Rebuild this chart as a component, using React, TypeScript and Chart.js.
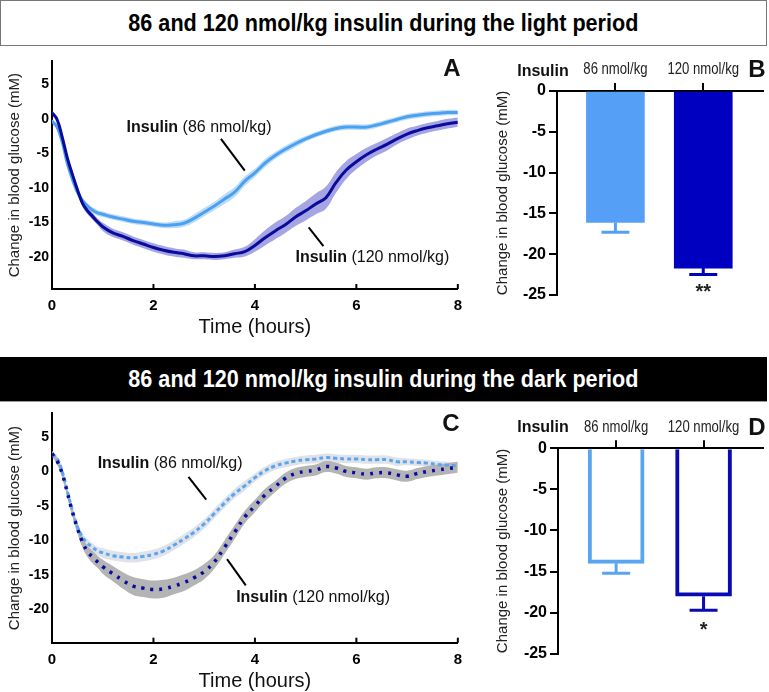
import React, { useEffect, useRef } from 'react';
import { Chart, registerables } from 'chart.js';
Chart.register(...registerables);

const FONT = "'Liberation Sans', Arial, sans-serif";

// ---------- data ----------
const hours = [0, 0.1, 0.2, 0.3, 0.4, 0.5, 0.6, 0.7, 0.8, 0.9, 1.0, 1.2, 1.4, 1.6, 1.8, 2.0, 2.2, 2.4, 2.6, 2.8, 3.0, 3.2, 3.4, 3.6, 3.8, 4.0, 4.2, 4.4, 4.6, 4.8, 5.0, 5.2, 5.4, 5.6, 5.8, 6.0, 6.2, 6.4, 6.6, 6.8, 7.0, 7.2, 7.4, 7.6, 7.8, 8.0];

// Light period (panel A)
const lightDose86Mean = [-0.3, -1.2, -3.3, -6.4, -8.7, -10.6, -11.8, -12.6, -13.2, -13.6, -13.8, -14.2, -14.5, -14.8, -15.0, -15.2, -15.4, -15.3, -15.1, -14.4, -13.5, -12.6, -11.6, -10.6, -9.0, -7.8, -6.4, -5.3, -4.4, -3.6, -2.9, -2.3, -1.8, -1.4, -1.2, -1.2, -1.2, -0.9, -0.5, -0.1, 0.3, 0.5, 0.7, 0.8, 0.9, 0.9];
const lightDose86Sem = [0.2, 0.3, 0.4, 0.4, 0.4, 0.4, 0.4, 0.4, 0.4, 0.4, 0.4, 0.4, 0.4, 0.4, 0.4, 0.4, 0.4, 0.5, 0.5, 0.6, 0.6, 0.6, 0.7, 0.7, 0.7, 0.6, 0.6, 0.5, 0.5, 0.5, 0.4, 0.4, 0.4, 0.4, 0.4, 0.4, 0.4, 0.4, 0.4, 0.4, 0.4, 0.4, 0.4, 0.4, 0.4, 0.4];
const lightDose120Mean = [0.9, -0.1, -2.6, -5.6, -8.0, -10.2, -12.2, -13.3, -14.1, -14.9, -15.6, -16.5, -17.0, -17.6, -18.1, -18.6, -19.0, -19.3, -19.5, -19.8, -19.8, -19.9, -19.8, -19.5, -19.2, -18.3, -17.2, -16.2, -15.3, -14.2, -13.3, -12.3, -11.4, -9.2, -7.4, -6.2, -5.2, -4.4, -3.7, -2.9, -2.2, -1.7, -1.3, -1.0, -0.7, -0.5];
const lightDose120Sem = [0.2, 0.3, 0.4, 0.4, 0.4, 0.4, 0.5, 0.5, 0.5, 0.5, 0.6, 0.6, 0.6, 0.6, 0.6, 0.6, 0.6, 0.6, 0.6, 0.5, 0.5, 0.5, 0.5, 0.6, 0.7, 0.9, 1.1, 1.2, 1.2, 1.3, 1.4, 1.5, 1.6, 1.5, 1.3, 1.1, 1.0, 0.9, 0.9, 0.8, 0.8, 0.7, 0.7, 0.7, 0.7, 0.7];

// Dark period (panel C)
const darkDose86Mean = [2.5, 1.9, 0.0, -2.8, -5.6, -8.0, -9.5, -10.4, -11.0, -11.5, -11.8, -12.2, -12.4, -12.5, -12.3, -12.0, -11.5, -10.7, -9.8, -8.8, -7.6, -6.1, -4.6, -3.2, -2.1, -0.9, 0.1, 0.8, 1.2, 1.5, 1.7, 1.8, 2.0, 1.9, 1.8, 1.8, 1.7, 1.7, 1.7, 1.4, 1.4, 1.3, 1.2, 1.0, 0.9, 0.8];
const darkDose86Sem = [0.3, 0.4, 0.5, 0.5, 0.5, 0.6, 0.6, 0.6, 0.6, 0.6, 0.7, 0.7, 0.7, 0.7, 0.7, 0.7, 0.7, 0.7, 0.7, 0.7, 0.7, 0.7, 0.7, 0.7, 0.7, 0.6, 0.6, 0.6, 0.6, 0.6, 0.6, 0.6, 0.6, 0.6, 0.6, 0.6, 0.6, 0.6, 0.6, 0.6, 0.5, 0.5, 0.5, 0.5, 0.5, 0.5];
const darkDose120Mean = [2.6, 1.5, -0.3, -3.0, -5.8, -8.2, -10.2, -11.6, -12.4, -13.1, -13.8, -14.8, -15.8, -16.6, -16.9, -17.1, -17.0, -16.6, -16.1, -15.4, -14.5, -13.1, -11.0, -8.8, -6.6, -5.0, -3.4, -2.2, -1.0, -0.3, 0.0, 0.2, 0.7, 0.5, 0.0, -0.2, -0.4, -0.2, -0.2, -0.5, -0.7, -0.3, 0.0, 0.2, 0.4, 0.6];
const darkDose120Sem = [0.4, 0.5, 0.6, 0.6, 0.7, 0.7, 0.8, 0.8, 0.9, 0.9, 1.0, 1.1, 1.2, 1.3, 1.3, 1.3, 1.3, 1.2, 1.2, 1.1, 1.1, 1.0, 1.0, 1.0, 0.9, 0.9, 0.9, 0.8, 0.8, 0.8, 0.8, 0.8, 0.8, 0.8, 0.8, 0.8, 0.8, 0.8, 0.8, 0.8, 0.8, 0.8, 0.8, 0.8, 0.8, 0.8];

const timeTicks = [0, 2, 4, 6, 8];
const lineGlucoseTicks = [5, 0, -5, -10, -15, -20];
const barGlucoseTicks = [0, -5, -10, -15, -20, -25];

const doseGroups = ['86 nmol/kg', '120 nmol/kg'];
const lightBarMeans = [-16.1, -21.7];
const lightBarSem = [1.2, 0.8];
const lightBarSig = ['', '**'];
const darkBarMeans = [-14.0, -18.0];
const darkBarSem = [1.2, 1.7];
const darkBarSig = ['', '*'];

// ---------- styles ----------
const C86 = '#4ba0f0';
const C120 = '#0a0a9c';
const BAR86 = '#559ff7';
const BAR120 = '#0000c0';

type Note = { dose: string; tx: number; ty: number; line: number[] };

function pts(means: number[], off: number[] | null, sign: number) {
  return hours.map((t, i) => ({ x: t, y: means[i] + (off ? sign * off[i] : 0) }));
}

function lineChartConfig(p: {
  m86: number[]; s86: number[]; m120: number[]; s120: number[];
  band86: string; band120: string; line86: string; line120: string;
  dash86?: number[]; dash120?: number[]; w86: number; w120: number;
  yMin: number; yMax: number; padTop: number; xHeight: number; titlePad: number;
  notes: Note[];
}) {
  const decor = {
    id: 'decor',
    afterDraw(chart: any) {
      const { ctx, chartArea } = chart;
      const x = chart.scales.x, y = chart.scales.y;
      ctx.save();
      ctx.strokeStyle = '#000';
      ctx.lineWidth = 2;
      timeTicks.forEach((t) => {
        const px = x.getPixelForValue(t);
        ctx.beginPath();
        ctx.moveTo(px, chartArea.bottom);
        ctx.lineTo(px, chartArea.bottom - 5);
        ctx.stroke();
      });
      p.notes.forEach((n) => {
        ctx.strokeStyle = '#000';
        ctx.lineWidth = 2;
        ctx.beginPath();
        ctx.moveTo(x.getPixelForValue(n.line[0]), y.getPixelForValue(n.line[1]));
        ctx.lineTo(x.getPixelForValue(n.line[2]), y.getPixelForValue(n.line[3]));
        ctx.stroke();
        const px = x.getPixelForValue(n.tx), py = y.getPixelForValue(n.ty);
        ctx.fillStyle = '#111';
        ctx.textAlign = 'left';
        ctx.textBaseline = 'middle';
        ctx.font = `bold 16px ${FONT}`;
        ctx.fillText('Insulin', px, py);
        const w = ctx.measureText('Insulin').width;
        ctx.font = `16px ${FONT}`;
        ctx.fillText(' (' + n.dose + ')', px + w, py);
      });
      ctx.restore();
    },
  };
  return {
    type: 'line',
    data: {
      datasets: [
        { data: pts(p.m120, null, 0), borderColor: p.line120, borderWidth: p.w120, borderDash: p.dash120 || [], pointRadius: 0, tension: 0.4, fill: false, order: 0 },
        { data: pts(p.m86, null, 0), borderColor: p.line86, borderWidth: p.w86, borderDash: p.dash86 || [], pointRadius: 0, tension: 0.4, fill: false, order: 0 },
        { data: pts(p.m120, p.s120, -1), borderWidth: 0, pointRadius: 0, tension: 0.4, fill: false, order: 1 },
        { data: pts(p.m120, p.s120, 1), borderWidth: 0, pointRadius: 0, tension: 0.4, fill: '-1', backgroundColor: p.band120, order: 1 },
        { data: pts(p.m86, p.s86, -1), borderWidth: 0, pointRadius: 0, tension: 0.4, fill: false, order: 2 },
        { data: pts(p.m86, p.s86, 1), borderWidth: 0, pointRadius: 0, tension: 0.4, fill: '-1', backgroundColor: p.band86, order: 2 },
      ],
    },
    options: {
      responsive: false,
      animation: false,
      devicePixelRatio: 1,
      layout: { padding: { left: 0, top: p.padTop, right: 10, bottom: 0 } },
      plugins: { legend: { display: false }, tooltip: { enabled: false } },
      scales: {
        x: {
          type: 'linear', min: 0, max: 8,
          afterBuildTicks: (s: any) => { s.ticks = timeTicks.map((v) => ({ value: v })); },
          afterFit: (s: any) => { s.height = p.xHeight; },
          grid: { drawOnChartArea: false, drawTicks: false },
          border: { color: '#000', width: 2 },
          ticks: { font: { family: FONT, size: 15, weight: 'bold' }, color: '#000', padding: 8, maxRotation: 0 },
          title: { display: true, text: 'Time (hours)', font: { family: FONT, size: 20, lineHeight: 1.1 }, color: '#111', padding: { top: 0, bottom: p.titlePad } },
        },
        y: {
          min: p.yMin, max: p.yMax,
          afterBuildTicks: (s: any) => { s.ticks = lineGlucoseTicks.map((v) => ({ value: v })); },
          afterFit: (s: any) => { s.width = 52; },
          grid: { drawOnChartArea: false, drawTicks: false },
          border: { color: '#000', width: 2 },
          ticks: { font: { family: FONT, size: 14, weight: 'bold' }, color: '#000', padding: 3 },
          title: { display: true, text: 'Change in blood glucose (mM)', font: { family: FONT, size: 15 }, color: '#222', padding: { top: 6, bottom: 0 } },
        },
      },
    },
    plugins: [decor],
  };
}

function barChartConfig(p: {
  means: number[]; sem: number[]; sig: string[]; filled: boolean;
  colors: string[]; thickness: number; yWidth: number; xHeight: number; padBottom: number; sigOffset: number;
}) {
  const errors = {
    id: 'errors',
    afterDatasetsDraw(chart: any) {
      const { ctx, chartArea } = chart;
      const x = chart.scales.x, y = chart.scales.y;
      ctx.save();
      p.means.forEach((m, i) => {
        const px = x.getPixelForValue(i + 1);
        const y0 = y.getPixelForValue(m);
        const y1 = y.getPixelForValue(m - p.sem[i]);
        ctx.strokeStyle = p.colors[i];
        ctx.lineWidth = 3;
        ctx.beginPath();
        ctx.moveTo(px, y0);
        ctx.lineTo(px, y1);
        ctx.moveTo(px - 14, y1);
        ctx.lineTo(px + 14, y1);
        ctx.stroke();
        if (p.sig[i]) {
          ctx.fillStyle = '#222';
          ctx.font = `bold 20px ${FONT}`;
          ctx.textAlign = 'center';
          ctx.textBaseline = 'middle';
          ctx.fillText(p.sig[i], px, y1 + p.sigOffset);
        }
      });
      // condensed group labels above the top axis
      doseGroups.forEach((g, i) => {
        const px = x.getPixelForValue(i + 1);
        ctx.save();
        ctx.translate(px, chartArea.top - 21);
        ctx.scale(0.82, 1);
        ctx.fillStyle = '#222';
        ctx.font = `16px ${FONT}`;
        ctx.textAlign = 'center';
        ctx.textBaseline = 'middle';
        ctx.fillText(g, 0, 0);
        ctx.restore();
      });
      ctx.restore();
    },
  };
  return {
    type: 'bar',
    data: {
      datasets: [{
        data: p.means.map((m, i) => ({ x: i + 1, y: m })),
        backgroundColor: p.filled ? p.colors : '#ffffff',
        borderColor: p.colors,
        borderWidth: p.filled ? 0 : 4,
        barThickness: p.thickness,
      }],
    },
    options: {
      responsive: false,
      animation: false,
      devicePixelRatio: 1,
      layout: { padding: { left: 0, top: 0, right: 6, bottom: p.padBottom } },
      plugins: { legend: { display: false }, tooltip: { enabled: false } },
      scales: {
        x: {
          type: 'linear', position: 'top', min: 0.335, max: 2.68, offset: false,
          afterBuildTicks: (s: any) => { s.ticks = doseGroups.map((_, i) => ({ value: i + 1 })); },
          afterFit: (s: any) => { s.height = p.xHeight; },
          grid: { drawOnChartArea: false, drawTicks: true, tickLength: 8, color: '#000', lineWidth: 2, offset: false },
          border: { color: '#000', width: 2 },
          ticks: { display: false },
        },
        y: {
          min: -25, max: 0,
          afterBuildTicks: (s: any) => { s.ticks = barGlucoseTicks.map((v) => ({ value: v })); },
          afterFit: (s: any) => { s.width = p.yWidth; },
          grid: { drawOnChartArea: false, drawTicks: true, tickLength: 8, color: '#000', lineWidth: 2 },
          border: { color: '#000', width: 2 },
          ticks: { font: { family: FONT, size: 16, weight: 'bold' }, color: '#000', padding: 3 },
          title: { display: true, text: 'Change in blood glucose (mM)', font: { family: FONT, size: 15 }, color: '#222', padding: { top: 24, bottom: 0 } },
        },
      },
    },
    plugins: [errors],
  };
}

function ChartBox(props: { left: number; top: number; width: number; height: number; make: () => any }) {
  const ref = useRef<HTMLCanvasElement | null>(null);
  useEffect(() => {
    const chart = new Chart(ref.current as HTMLCanvasElement, props.make());
    return () => chart.destroy();
  }, []);
  return (
    <canvas
      ref={ref}
      width={props.width}
      height={props.height}
      style={{ position: 'absolute', left: props.left, top: props.top, width: props.width, height: props.height }}
    />
  );
}

function Label(props: { x: number; y: number; size: number; bold?: boolean; text: string }) {
  return (
    <div
      style={{
        position: 'absolute', left: props.x, top: props.y, transform: 'translate(-50%, -50%)',
        fontFamily: FONT, fontSize: props.size, fontWeight: props.bold ? 'bold' : 'normal',
        lineHeight: 1, whiteSpace: 'nowrap', color: '#111',
      }}
    >
      {props.text}
    </div>
  );
}

function Header(props: { top: number; dark: boolean; text: string }) {
  return (
    <div
      style={{
        position: 'absolute', left: 0, top: props.top, width: props.dark ? 767 : 765, height: 44,
        border: props.dark ? 'none' : '1px solid #777',
        borderBottom: props.dark ? '1px solid #999' : '1px solid #777',
        background: props.dark ? '#000' : '#fff',
        display: 'flex', alignItems: 'center', justifyContent: 'center',
      }}
    >
      <span
        style={{
          display: 'inline-block', transform: 'scaleX(0.9)', whiteSpace: 'nowrap',
          fontFamily: FONT, fontWeight: 'bold', fontSize: 24, lineHeight: 1,
          color: props.dark ? '#fff' : '#000',
        }}
      >
        {props.text}
      </span>
    </div>
  );
}

export default function App() {
  return (
    <div style={{ position: 'absolute', left: 0, top: 0, width: 769, height: 692, background: '#fff', overflow: 'hidden' }}>
      <Header top={0} dark={false} text="86 and 120 nmol/kg insulin during the light period" />
      <Header top={357} dark={true} text="86 and 120 nmol/kg insulin during the dark period" />

      <ChartBox
        left={0} top={50} width={470} height={290}
        make={() => lineChartConfig({
          m86: lightDose86Mean, s86: lightDose86Sem, m120: lightDose120Mean, s120: lightDose120Sem,
          band86: '#bcdcf8', band120: '#a5a5e4', line86: C86, line120: C120, w86: 3, w120: 3,
          yMin: -24.6, yMax: 8.3, padTop: 10, xHeight: 51, titlePad: 2,
          notes: [
            { dose: '86 nmol/kg', tx: 1.47, ty: -1.3, line: [3.33, -2.9, 3.8, -7.5] },
            { dose: '120 nmol/kg', tx: 4.8, ty: -20.1, line: [5.06, -15.7, 5.35, -18.4] },
          ],
        })}
      />
      <ChartBox
        left={470} top={50} width={299} height={260}
        make={() => barChartConfig({
          means: lightBarMeans, sem: lightBarSem, sig: lightBarSig, filled: true,
          colors: [BAR86, BAR120], thickness: 58, yWidth: 87, xHeight: 41, padBottom: 15, sigOffset: 18,
        })}
      />
      <ChartBox
        left={0} top={402} width={470} height={290}
        make={() => lineChartConfig({
          m86: darkDose86Mean, s86: darkDose86Sem, m120: darkDose120Mean, s120: darkDose120Sem,
          band86: '#dfe3e9', band120: '#b4b4b4', line86: '#5aa5ee', line120: '#0a0aa0',
          dash86: [4, 3], dash120: [3, 6], w86: 3, w120: 3.5,
          yMin: -24.8, yMax: 8.4, padTop: 10.3, xHeight: 49.3, titlePad: 0,
          notes: [
            { dose: '86 nmol/kg', tx: 0.9, ty: 1.2, line: [2.69, -0.8, 3.04, -4.1] },
            { dose: '120 nmol/kg', tx: 3.63, ty: -18.3, line: [3.45, -12.7, 3.82, -16.5] },
          ],
        })}
      />
      <ChartBox
        left={470} top={402} width={299} height={270}
        make={() => barChartConfig({
          means: darkBarMeans, sem: darkBarSem, sig: darkBarSig, filled: false,
          colors: ['#5aa5f0', '#0a0ab4'], thickness: 56, yWidth: 88, xHeight: 46.3, padBottom: 18.3, sigOffset: 20,
        })}
      />

      <Label x={452} y={68} size={24} bold text="A" />
      <Label x={757} y={69} size={24} bold text="B" />
      <Label x={451} y={423} size={24} bold text="C" />
      <Label x={757} y={427} size={24} bold text="D" />
      <Label x={543} y={71} size={16} bold text="Insulin" />
      <Label x={543} y={427} size={16} bold text="Insulin" />
    </div>
  );
}
